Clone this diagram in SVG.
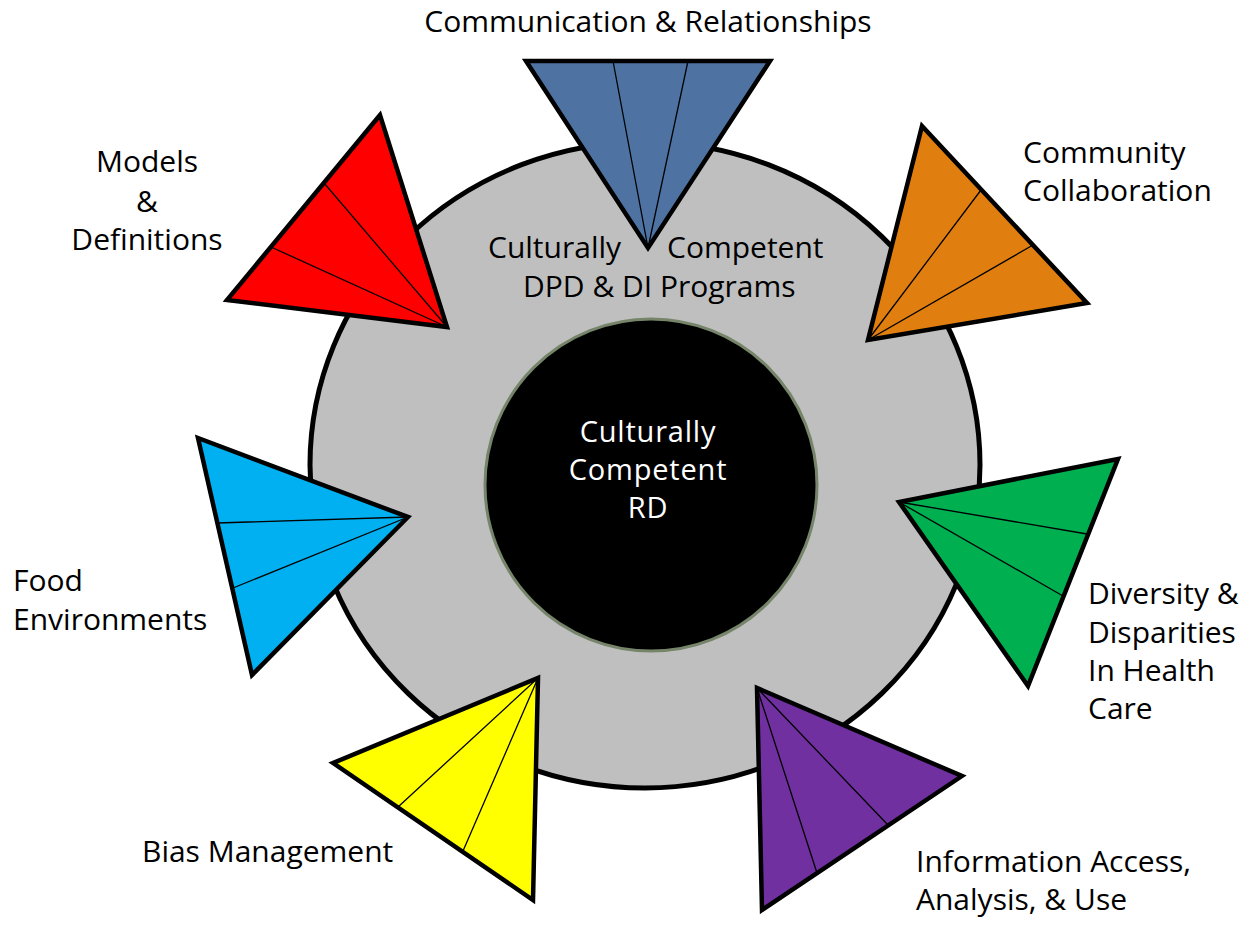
<svg xmlns="http://www.w3.org/2000/svg" width="1257" height="925" viewBox="0 0 1257 925">
  <style>
    .lbl { font-family: "Open Sans", "DejaVu Sans", sans-serif; font-size: 30px; fill: #000; }
    .mid { text-anchor: middle; }
    .inner { fill: #fff; font-size: 29px; letter-spacing: 0.8px; }
    .tri { stroke: #000; stroke-width: 4.5; stroke-linejoin: miter; }
    .div { stroke: #000; stroke-width: 1.3; fill: none; }
  </style>
  <rect width="1257" height="925" fill="#fff"/>

  <!-- outer ring: program level -->
  <g id="programs">
    <ellipse cx="645" cy="465" rx="335" ry="323" fill="#bfbfbf" stroke="#000" stroke-width="5"/>
  </g>

  <!-- segmented pointers around the ring -->
  <g id="communication">
    <polygon class="tri" fill="#4e73a3" points="526,61 770,61 648,248"/>
    <path class="div" d="M648,248 L613,61 M648,248 L688,61"/>
  </g>
  <g id="models">
    <polygon class="tri" fill="#ff0000" points="380,115 227,300 447,327"/>
    <path class="div" d="M447,327 L324,183 M447,327 L271,247"/>
  </g>
  <g id="community">
    <polygon class="tri" fill="#e07f10" points="922,126 1087,303 868,340"/>
    <path class="div" d="M868,340 L981,190 M868,340 L1033,245"/>
  </g>
  <g id="food">
    <polygon class="tri" fill="#00b0f0" points="198,438 252,675 408,517"/>
    <path class="div" d="M408,517 L217,523 M408,517 L233,588"/>
  </g>
  <g id="diversity">
    <polygon class="tri" fill="#00b050" points="1118,459 1028,686 899,502"/>
    <path class="div" d="M899,502 L1087,534 M899,502 L1063,596"/>
  </g>
  <g id="bias">
    <polygon class="tri" fill="#ffff00" points="333,763 533,900 538,678"/>
    <path class="div" d="M538,678 L398,807 M538,678 L463,851"/>
  </g>
  <g id="information">
    <polygon class="tri" fill="#7030a0" points="962,776 762,910 757,688"/>
    <path class="div" d="M757,688 L888,825 M757,688 L817,873"/>
  </g>

  <!-- core: the practitioner -->
  <g id="rd">
    <circle cx="651" cy="485" r="166" fill="#000" stroke="#76856a" stroke-width="3"/>
    <text class="lbl mid inner" x="648" y="442">Culturally</text>
    <text class="lbl mid inner" x="648" y="480">Competent</text>
    <text class="lbl mid inner" x="648" y="518">RD</text>
  </g>

  <!-- labels -->
  <g id="labels">
    <text class="lbl mid" x="648" y="32">Communication &amp; Relationships</text>
    <text class="lbl" x="488" y="258">Culturally</text>
    <text class="lbl" x="667" y="258">Competent</text>
    <text class="lbl" x="523" y="297">DPD &amp; DI Programs</text>
    <text class="lbl mid" x="147" y="172">Models</text>
    <text class="lbl mid" x="147" y="212">&amp;</text>
    <text class="lbl mid" x="147" y="250">Definitions</text>
    <text class="lbl" x="1023" y="163">Community</text>
    <text class="lbl" x="1023" y="201">Collaboration</text>
    <text class="lbl" x="13" y="591">Food</text>
    <text class="lbl" x="13" y="630">Environments</text>
    <text class="lbl" x="1088" y="604">Diversity &amp;</text>
    <text class="lbl" x="1088" y="643">Disparities</text>
    <text class="lbl" x="1088" y="681">In Health</text>
    <text class="lbl" x="1088" y="719">Care</text>
    <text class="lbl" x="142" y="862">Bias Management</text>
    <text class="lbl" x="916" y="872">Information Access,</text>
    <text class="lbl" x="916" y="910">Analysis, &amp; Use</text>
  </g>
</svg>
